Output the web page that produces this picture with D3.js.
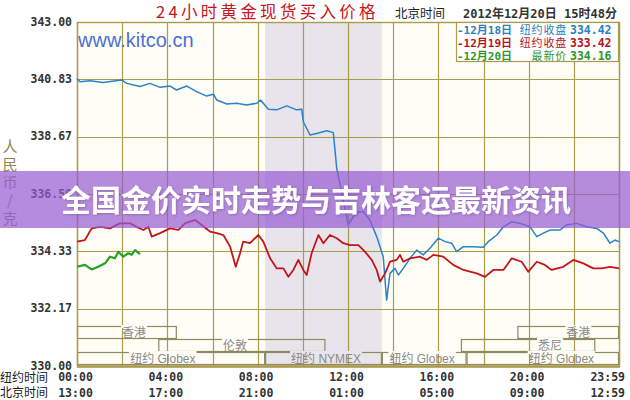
<!DOCTYPE html>
<html>
<head>
<meta charset="utf-8">
<script src="https://cdn.jsdelivr.net/npm/d3@7"></script>
<style>
  body { margin: 0; background: #fff; }
  svg { display: block; }
</style>
</head>
<body>
<svg id="chart" width="630" height="400"></svg>
<script>
// price readings, [hour of New York day, RMB per gram]
const dec18 = [
  [0.00,340.87],[0.13,340.74],[0.58,340.78],[1.15,340.71],[1.98,340.81],[2.20,340.68],
  [2.79,340.56],[3.23,340.68],[3.68,340.53],[4.12,340.58],[4.41,340.43],[4.86,340.58],
  [5.30,340.37],[5.74,340.20],[6.04,340.27],[6.19,340.05],[6.63,339.90],[7.07,339.93],
  [7.51,339.86],[7.96,339.93],[8.13,340.05],[8.47,339.70],[8.84,339.68],[9.29,339.83],
  [9.73,339.68],[9.95,339.70],[10.02,339.23],[10.32,338.73],[10.61,338.79],[11.06,338.89],
  [11.35,338.82],[11.50,337.48],[11.79,336.27],[12.01,335.33],[12.23,335.64],[12.46,335.83],
  [12.68,335.83],[12.97,335.52],[13.27,334.89],[13.56,334.13],[13.71,332.49],[13.86,333.50],
  [14.08,333.69],[14.23,333.44],[14.45,333.69],[14.75,334.07],[15.04,334.38],[15.33,334.20],
  [15.63,334.45],[16.00,334.83],[16.30,334.70],[16.59,334.64],[16.81,334.32],[17.11,334.51],
  [17.55,334.51],[17.99,334.49],[18.21,334.70],[18.59,334.95],[18.88,335.26],[19.25,335.45],
  [19.62,335.39],[20.06,335.26],[20.36,334.89],[20.65,335.02],[20.95,335.14],[21.39,335.14],
  [21.68,335.33],[22.13,335.39],[22.57,335.26],[23.01,335.20],[23.31,335.02],[23.60,334.64],
  [23.82,334.76],[24.00,334.70]
];
const dec19 = [
  [0.00,334.70],[0.35,334.76],[0.65,335.20],[1.02,335.26],[1.46,335.20],[1.90,335.39],
  [2.35,335.39],[2.64,335.26],[2.94,335.14],[3.16,335.26],[3.31,334.89],[3.68,335.02],
  [4.12,335.20],[4.49,335.14],[4.78,335.39],[5.23,335.52],[5.52,335.33],[5.89,335.08],
  [6.19,335.02],[6.48,334.95],[6.78,334.51],[7.03,333.75],[7.22,334.26],[7.36,334.70],
  [7.66,334.64],[8.03,334.95],[8.25,334.70],[8.55,334.07],[8.84,333.69],[9.14,333.69],
  [9.36,333.37],[9.58,333.63],[9.80,334.01],[10.02,333.63],[10.17,333.44],[10.39,334.26],
  [10.69,334.95],[10.91,334.64],[11.20,334.95],[11.50,334.83],[11.79,334.64],[12.09,334.57],
  [12.46,334.57],[12.75,334.32],[13.05,334.01],[13.27,333.63],[13.42,333.19],[13.64,333.50],
  [13.86,333.94],[14.16,334.01],[14.30,334.20],[14.45,333.94],[14.75,334.07],[15.19,334.13],
  [15.49,334.01],[15.78,334.20],[16.22,334.13],[16.66,333.82],[17.11,333.63],[17.70,333.50],
  [18.07,333.37],[18.43,333.63],[18.88,333.63],[19.25,334.07],[19.69,333.94],[19.98,333.56],
  [20.36,333.94],[20.72,333.82],[21.02,333.63],[21.53,333.75],[21.98,334.01],[22.42,333.88],
  [22.86,333.69],[23.23,333.69],[23.60,333.75],[24.00,333.69]
];
const dec20 = [
  [0.00,333.75],[0.35,333.82],[0.65,333.65],[0.94,333.75],[1.24,333.88],[1.46,334.13],
  [1.68,334.07],[1.83,334.32],[2.05,334.13],[2.27,334.26],[2.42,334.20],[2.57,334.38],
  [2.79,334.23]
];

const yTicks = [330.00, 332.17, 334.33, 336.50, 338.67, 340.83, 343.00];
const tickHours = [0, 4, 8, 12, 16, 20, 24];
const nyLabels = ["00:00", "04:00", "08:00", "12:00", "16:00", "20:00", "23:59"];
const bjLabels = ["13:00", "17:00", "21:00", "01:00", "05:00", "09:00", "12:59"];

const legendDates = ["-12月18日", "-12月19日", "-12月20日"];
const legendKinds = ["纽约收盘", "纽约收盘", "最新价"];
const legendValues = ["334.42", "333.42", "334.16"];

// trading sessions (hours, NY time)
const marketNames = ["香港", "伦敦", "纽约 Globex", "纽约 NYMEX", "纽约 Globex", "悉尼", "香港", "纽约 Globex"];
const marketFrom  = [0, 3.6, 0, 8.33, 13.5, 17.0, 19.5, 17.25];
const marketTo    = [4.42, 11.0, 8.33, 13.5, 17.25, 22.95, 24, 24];
const marketRow   = [0, 1, 2, 2, 2, 1, 0, 2];
const marketLabel = [2.52, 7.0, 3.8, 11.03, 15.28, 20.95, 22.2, 21.45];
const nymexBand = [8.33, 13.5];

const svg = d3.select("#chart");
const W = 630, H = 400;
const pLeft = 77, pRight = 619, pTop = 22, pBottom = 366;

const CJK = "'Noto Sans CJK SC', 'Noto Sans', sans-serif";
const MONO = "'DejaVu Sans Mono', monospace";
const gridColor = "#aa9a4c";
const plotBg = "#fffef6";
const bandColor = "#e7e5eb";

const x = d3.scaleLinear().domain([0, 24]).range([pLeft, pRight]);
const y = d3.scaleLinear().domain([330, 343]).range([pBottom, pTop]);

svg.append("rect").attr("width", W).attr("height", H).attr("fill", "#fff");
svg.append("rect")
  .attr("x", pLeft).attr("y", pTop)
  .attr("width", pRight - pLeft).attr("height", pBottom - pTop)
  .attr("fill", plotBg);

// NYMEX session shading
svg.append("rect")
  .attr("x", x(nymexBand[0])).attr("y", pTop)
  .attr("width", x(nymexBand[1]) - x(nymexBand[0])).attr("height", pBottom - pTop)
  .attr("fill", bandColor);

// grid
const grid = svg.append("g").attr("stroke", gridColor).attr("stroke-width", 1.2);
grid.selectAll(".hg").data(yTicks).join("line")
  .attr("x1", pLeft).attr("x2", pRight)
  .attr("y1", d => Math.round(y(d)) + 0.5).attr("y2", d => Math.round(y(d)) + 0.5);
grid.selectAll(".vg").data(d3.range(0, 25, 2)).join("line")
  .attr("x1", d => Math.round(x(d)) + 0.5).attr("x2", d => Math.round(x(d)) + 0.5)
  .attr("y1", pTop).attr("y2", pBottom);

// website watermark
svg.append("text")
  .attr("x", 78).attr("y", 47)
  .attr("font-family", "'Liberation Sans', Arial, sans-serif")
  .attr("font-size", 20).attr("fill", "#4d6fd2")
  .text("www.kitco.cn");

// session boxes
const rowTop = [326, 339, 352];
const mk = svg.append("g");
marketNames.forEach((name, i) => {
  const r = marketRow[i];
  mk.append("rect")
    .attr("x", x(marketFrom[i]) + 0.5).attr("y", rowTop[r] + 0.5)
    .attr("width", x(marketTo[i]) - x(marketFrom[i]) - 1).attr("height", 12)
    .attr("fill", "none").attr("stroke", "#8e8a5e").attr("stroke-width", 1.2);
});
marketNames.forEach((name, i) => {
  const r = marketRow[i];
  const inBand = marketLabel[i] > nymexBand[0] && marketLabel[i] < nymexBand[1];
  const bg = mk.append("rect").attr("fill", inBand ? bandColor : plotBg);
  const t = mk.append("text")
    .attr("x", x(marketLabel[i])).attr("y", rowTop[r] + 11)
    .attr("text-anchor", "middle")
    .attr("font-family", "'Liberation Sans', " + CJK)
    .attr("font-size", 12).attr("fill", "#8a8a8a")
    .text(name);
  const w = t.node().getComputedTextLength();
  bg.attr("x", x(marketLabel[i]) - w / 2 - 1).attr("y", rowTop[r] - 1)
    .attr("width", w + 2).attr("height", 3);
});

// plot frame
svg.append("rect")
  .attr("x", pLeft + 0.5).attr("y", pTop + 0.5)
  .attr("width", pRight - pLeft).attr("height", pBottom - pTop)
  .attr("fill", "none").attr("stroke", gridColor).attr("stroke-width", 1.4);
svg.append("line")
  .attr("x1", pLeft).attr("x2", pRight + 1).attr("y1", pBottom + 0.5).attr("y2", pBottom + 0.5)
  .attr("stroke", gridColor).attr("stroke-width", 2.5);

// price lines
const line = d3.line().x(d => x(d[0])).y(d => y(d[1]));
[[dec18, "#2a82cc", 1.5], [dec19, "#c4141a", 1.8], [dec20, "#22a322", 2.2]].forEach(s => {
  svg.append("path").datum(s[0])
    .attr("fill", "none").attr("stroke", s[1]).attr("stroke-width", s[2])
    .attr("stroke-linejoin", "round")
    .attr("d", line);
});

// y axis labels
svg.append("g").selectAll("text").data(yTicks).join("text")
  .attr("x", 72).attr("y", d => y(d) + 3.5)
  .attr("text-anchor", "end")
  .attr("font-family", MONO).attr("font-weight", "bold").attr("font-size", 11.5)
  .attr("fill", "#333")
  .text(d => d.toFixed(2));

// y axis title, stacked
const yTitle = ["人", "民", "币", "/", "克"];
svg.append("g").selectAll("text").data(yTitle).join("text")
  .attr("x", 10).attr("y", (d, i) => 152 + i * 18)
  .attr("text-anchor", "middle")
  .attr("font-family", CJK).attr("font-size", 15)
  .attr("fill", "#8c8a52")
  .text(d => d);

// x axis labels: NY time and Beijing time
svg.append("text").attr("x", 0).attr("y", 382)
  .attr("font-family", CJK).attr("font-size", 12).attr("fill", "#222").text("纽约时间");
svg.append("text").attr("x", 0).attr("y", 397)
  .attr("font-family", CJK).attr("font-size", 12).attr("fill", "#222").text("北京时间");
[[nyLabels, 381], [bjLabels, 397]].forEach(row => {
  svg.append("g").selectAll("text").data(tickHours).join("text")
    .attr("x", (d, i) => i === tickHours.length - 1 ? x(d) + 6 : x(d) - 1.5)
    .attr("y", row[1])
    .attr("text-anchor", (d, i) => i === tickHours.length - 1 ? "end" : "middle")
    .attr("font-family", MONO).attr("font-weight", "bold").attr("font-size", 11.5)
    .attr("fill", "#333")
    .text((d, i) => row[0][i]);
});

// header
svg.append("text")
  .attr("x", 156).attr("y", 18)
  .attr("font-family", CJK).attr("font-size", 16.5).attr("letter-spacing", 3.3)
  .attr("fill", "#c8141e")
  .text("24小时黄金现货买入价格");
svg.append("text").attr("x", 395).attr("y", 18)
  .attr("font-family", CJK).attr("font-size", 12.5).attr("fill", "#222").text("北京时间");
svg.append("text").attr("x", 463).attr("y", 18)
  .attr("font-family", MONO + ", " + CJK).attr("font-weight", "bold")
  .attr("font-size", 12).attr("fill", "#333")
  .text("2012年12月20日 15时48分");

// legend box
const lg = svg.append("g");
lg.append("rect")
  .attr("x", 456.5).attr("y", 22.5).attr("width", 162).attr("height", 39)
  .attr("fill", "#fff").attr("stroke", gridColor).attr("stroke-width", 1.2);
const legendColors = ["#2a7fbf", "#b3161c", "#2f962f"];
legendDates.forEach((d, i) => {
  const yy = 34 + i * 13;
  const g = lg.append("g")
    .attr("font-family", MONO + ", " + CJK).attr("font-size", 11)
    .attr("font-weight", "bold").attr("fill", legendColors[i]);
  g.append("text").attr("x", 457).attr("y", yy).text(d);
  g.append("text").attr("x", 567).attr("y", yy).attr("text-anchor", "end")
    .attr("font-weight", "normal").attr("font-family", CJK).attr("letter-spacing", 0.8)
    .text(legendKinds[i]);
  g.append("text").attr("x", 570).attr("y", yy).attr("font-size", 11.5).text(legendValues[i]);
});

// overlay banner
const defs = svg.append("defs");
defs.append("filter").attr("id", "sh")
  .append("feDropShadow")
  .attr("dx", 1).attr("dy", 1).attr("stdDeviation", 1)
  .attr("flood-color", "#503070").attr("flood-opacity", 0.35);
svg.append("rect")
  .attr("x", 0).attr("y", 171).attr("width", W).attr("height", 57)
  .attr("fill", "rgb(150,90,210)").attr("opacity", 0.7);
svg.append("text")
  .attr("x", 316).attr("y", 211)
  .attr("text-anchor", "middle")
  .attr("font-family", CJK).attr("font-weight", "bold").attr("font-size", 30)
  .attr("fill", "#fff").attr("filter", "url(#sh)")
  .text("全国金价实时走势与吉林客运最新资讯");
</script>
</body>
</html>
